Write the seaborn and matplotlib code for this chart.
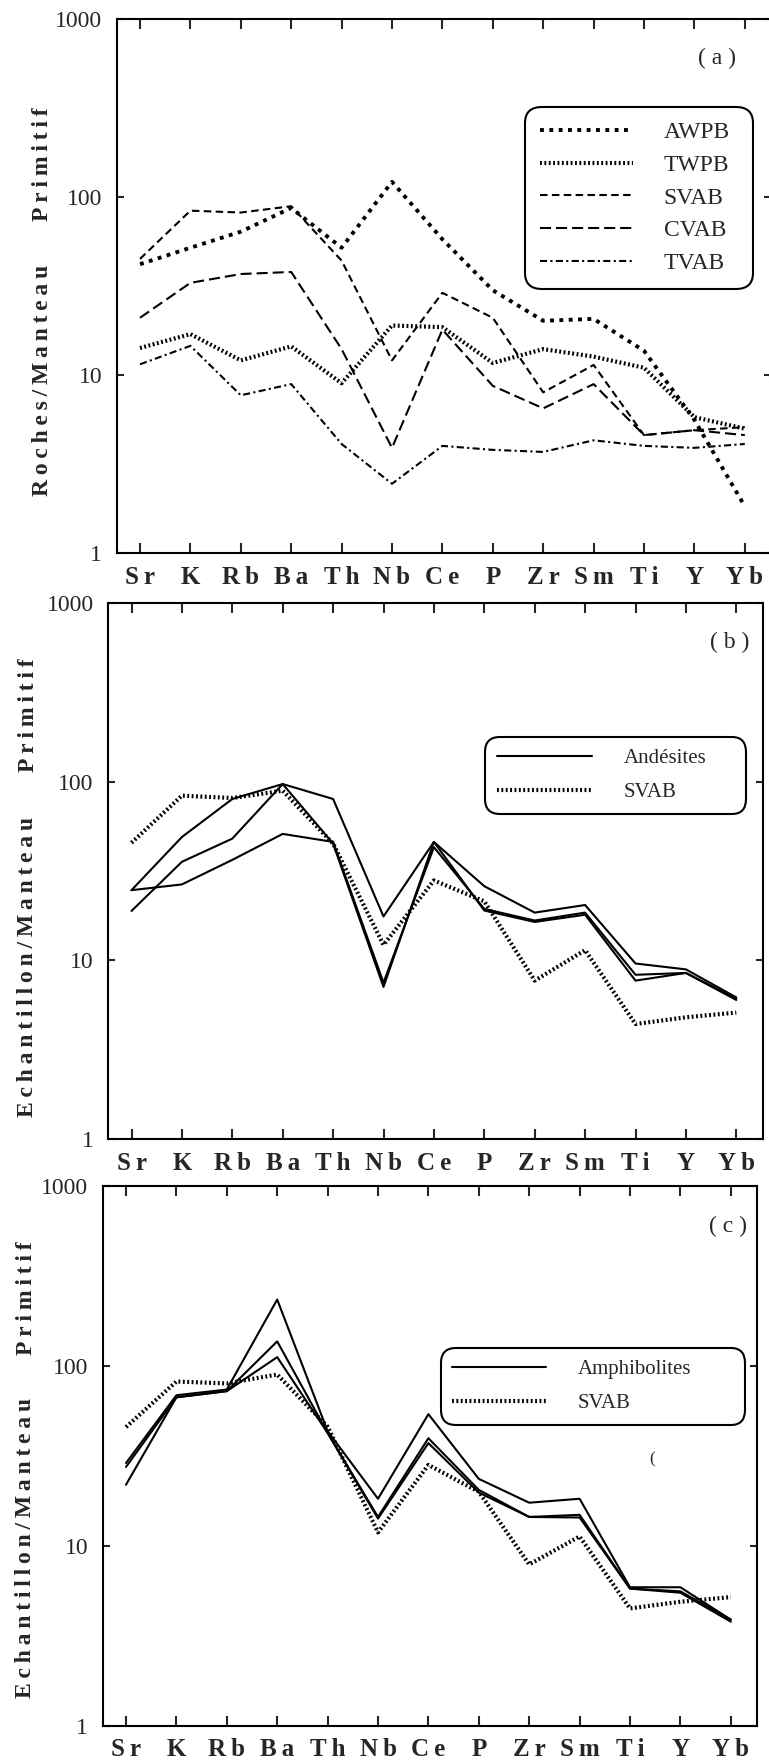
import matplotlib
matplotlib.use('Agg')
import matplotlib.pyplot as plt
from matplotlib.ticker import NullLocator
import numpy as np
import seaborn as sns

#================================================================================================
# Data (normalised to primitive mantle)
#================================================================================================
elements = ['Sr', 'K', 'Rb', 'Ba', 'Th', 'Nb', 'Ce', 'P', 'Zr', 'Sm', 'Ti', 'Y', 'Yb']

# panel (a)
awpb = [42, 52, 64, 87, 52, 122, 58, 30, 20.2, 20.7, 13.7, 5.6, 1.83]
twpb = [14.2, 17.0, 12.1, 14.5, 9.0, 19.0, 18.6, 11.7, 14.0, 12.7, 11.0, 5.8, 5.0]
svab_a = [45, 84, 82, 89, 44, 12.1, 29, 21, 8.0, 11.4, 4.6, 4.9, 5.1]
cvab = [21, 33, 37, 38, 14, 3.9, 18, 8.7, 6.5, 8.9, 4.6, 4.9, 4.6]
tvab = [11.5, 14.6, 7.7, 8.9, 4.1, 2.45, 4.0, 3.8, 3.7, 4.3, 4.0, 3.9, 4.1]

# panel (b)
andesite_1 = [24.7, 49, 80, 97, 80, 17.6, 46, 26, 18.5, 20.4, 9.6, 8.9, 6.2]
andesite_2 = [18.9, 35.6, 48, 97, 45, 7.1, 46, 19, 16.4, 18, 7.7, 8.5, 6.1]
andesite_3 = [24.7, 26.6, 36.5, 51, 46, 7.5, 43, 19.4, 16.7, 18.5, 8.3, 8.5, 6.0]
svab_b = [45.5, 83.5, 81, 89, 45, 12.2, 28, 21.4, 7.7, 11.4, 4.4, 4.8, 5.1]

# panel (c)
amphibolite_1 = [28.9, 68.8, 74, 234, 43.5, 18.3, 54, 23.6, 17.4, 18.3, 5.9, 5.9, 3.9]
amphibolite_2 = [27.5, 67, 72.5, 137, 42.5, 14.5, 39.7, 20.5, 14.5, 14.9, 5.8, 5.6, 3.9]
amphibolite_3 = [21.9, 67, 72.5, 112, 42.5, 14.2, 37.3, 19.8, 14.5, 14.4, 5.8, 5.5, 3.8]
svab_c = [45.8, 82, 80, 89.7, 46, 11.9, 28.2, 20, 7.9, 11.3, 4.5, 4.9, 5.2]

#================================================================================================
# Style
#================================================================================================
sns.set_style('ticks')
plt.rcParams['font.family'] = ['Liberation Serif', 'DejaVu Serif']

TS = '\u2009'
W, H = 769, 1764
x = np.arange(len(elements))

ls_awpb = dict(lw=2.8, linestyle=(0, (1.0, 1.4)))
ls_dense = dict(lw=3.0, linestyle=(0, (0.45, 0.6)))
ls_svab = dict(lw=1.5, linestyle=(0, (3.6, 2.1)))
ls_cvab = dict(lw=1.5, linestyle=(0, (5.3, 2.4)))
ls_tvab = dict(lw=1.5, linestyle=(0, (3.4, 1.6, 1.0, 1.6)))
ls_solid = dict(lw=1.5, linestyle='-')


def px(xp, yp):
    return xp / W, 1 - yp / H


def make_axes(fig, sr_px, top_px, bottom_px):
    # 50.4 px per element
    left = sr_px - 0.46 * 50.4
    width = 12.98 * 50.4
    ax = fig.add_axes([left / W, 1 - bottom_px / H, width / W, (bottom_px - top_px) / H])
    return ax


def setup(ax):
    ax.set_yscale('log')
    ax.set_ylim(1, 1000)
    ax.set_xlim(-0.46, 12.52)
    ax.set_xticks(x)
    ax.set_xticklabels([TS.join(e) for e in elements], fontweight='bold', fontsize=18)
    ax.set_yticks([1, 10, 100, 1000])
    ax.set_yticklabels(['1', '10', '100', '1000'], fontsize=17)
    ax.yaxis.set_minor_locator(NullLocator())
    ax.tick_params(axis='x', direction='in', top=True, bottom=True, length=7, width=1.5, pad=9)
    ax.tick_params(axis='y', direction='in', left=True, right=True, length=5, width=1.5, pad=10.5)
    for s in ax.spines.values():
        s.set_linewidth(1.5)
        s.set_color('black')
    ax.set_xlabel('')
    ax.set_ylabel('')


def add_legend(ax, x0, ytop, w, fontsize=15, **kw):
    leg = ax.legend(loc='upper left', bbox_to_anchor=(x0, ytop, w, 0.0), mode='expand',
                    borderaxespad=0, fontsize=fontsize, frameon=True, fancybox=True,
                    edgecolor='black', framealpha=1, **kw)
    leg.get_frame().set_linewidth(1.5)
    leg.get_frame().set_boxstyle('round', pad=0, rounding_size=0.7)
    return leg


def spaced(s):
    return TS.join(s)


fig = plt.figure(figsize=(W / 100, H / 100), dpi=100)
fig.patch.set_facecolor('white')

#================================================================================================
# Panel (a)
#================================================================================================
ax = make_axes(fig, 140, 19.3, 553)
sns.lineplot(x=x, y=awpb, ax=ax, color='black', label='AWPB', **ls_awpb)
sns.lineplot(x=x, y=twpb, ax=ax, color='black', label='TWPB', **ls_dense)
sns.lineplot(x=x, y=svab_a, ax=ax, color='black', label='SVAB', **ls_svab)
sns.lineplot(x=x, y=cvab, ax=ax, color='black', label='CVAB', **ls_cvab)
sns.lineplot(x=x, y=tvab, ax=ax, color='black', label='TVAB', **ls_tvab)
setup(ax)
add_legend(ax, 0.624, 0.836, 0.3485, fontsize=17, handlelength=3.94, handletextpad=1.3,
           labelspacing=0.47, borderpad=0.64)
ax.text(0.9175, 0.9275, '( a )', transform=ax.transAxes, ha='center', va='center', fontsize=17)
fig.text(*px(43, 164.5), spaced('Primitif'), rotation=90, ha='center', va='center',
         fontsize=17, fontweight='bold')
fig.text(*px(43, 380), spaced('Roches/Manteau'), rotation=90, ha='center', va='center',
         fontsize=17, fontweight='bold')

#================================================================================================
# Panel (b)
#================================================================================================
ax = make_axes(fig, 131.5, 603, 1139)
sns.lineplot(x=x, y=andesite_1, ax=ax, color='black', label='Andésites', **ls_solid)
sns.lineplot(x=x, y=andesite_2, ax=ax, color='black', **ls_solid)
sns.lineplot(x=x, y=andesite_3, ax=ax, color='black', **ls_solid)
sns.lineplot(x=x, y=svab_b, ax=ax, color='black', label='SVAB', **ls_dense)
setup(ax)
add_legend(ax, 0.576, 0.75, 0.399, handlelength=4.6, handletextpad=1.5,
           labelspacing=0.71, borderpad=0.55)
ax.text(0.950, 0.927, '( b )', transform=ax.transAxes, ha='center', va='center', fontsize=17)
fig.text(*px(29, 715.5), spaced('Primitif'), rotation=90, ha='center', va='center',
         fontsize=17, fontweight='bold')
fig.text(*px(28, 967), spaced('Echantillon/Manteau'), rotation=90, ha='center', va='center',
         fontsize=17, fontweight='bold')

#================================================================================================
# Panel (c)
#================================================================================================
ax = make_axes(fig, 126, 1186, 1726)
sns.lineplot(x=x, y=amphibolite_1, ax=ax, color='black', label='Amphibolites', **ls_solid)
sns.lineplot(x=x, y=amphibolite_2, ax=ax, color='black', **ls_solid)
sns.lineplot(x=x, y=amphibolite_3, ax=ax, color='black', **ls_solid)
sns.lineplot(x=x, y=svab_c, ax=ax, color='black', label='SVAB', **ls_dense)
setup(ax)
add_legend(ax, 0.517, 0.70, 0.465, handlelength=4.5, handletextpad=1.5,
           labelspacing=0.71, borderpad=0.55)
ax.text(0.9557, 0.926, '( c )', transform=ax.transAxes, ha='center', va='center', fontsize=17)
fig.text(*px(27, 1298), spaced('Primitif'), rotation=90, ha='center', va='center',
         fontsize=17, fontweight='bold')
fig.text(*px(26, 1548), spaced('Echantillon/Manteau'), rotation=90, ha='center', va='center',
         fontsize=17, fontweight='bold')
fig.text(*px(652, 1459), '(', ha='center', va='center', fontsize=12)

plt.savefig('out.png', dpi=100)
plt.close()
